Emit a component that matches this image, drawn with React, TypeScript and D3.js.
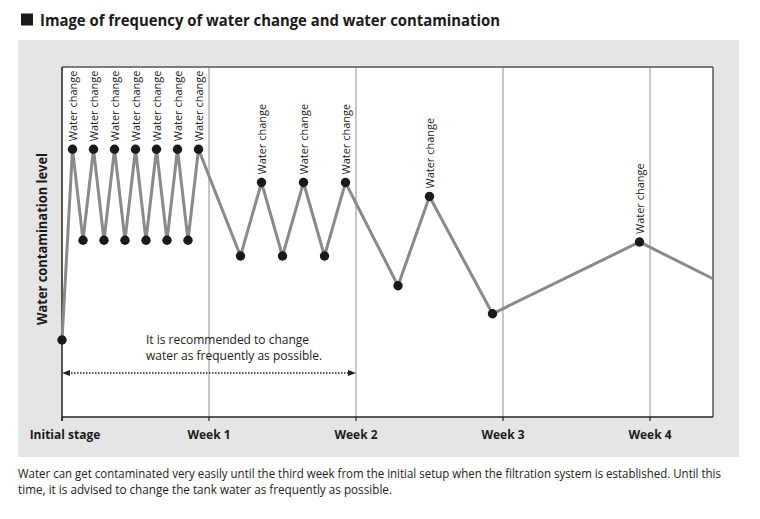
import React from "react";
import * as d3 from "d3";

const days = [0, 0.5, 1, 1.5, 2, 2.5, 3, 3.5, 4, 4.5, 5, 5.5, 6, 6.5, 8.5, 9.5, 10.5, 11.5, 12.5, 13.5, 16, 17.5, 20.5, 27.5, 31];
const levels = [22, 76.5, 50.5, 76.5, 50.5, 76.5, 50.5, 76.5, 50.5, 76.5, 50.5, 76.5, 50.5, 76.5, 46, 67, 46, 67, 46, 67, 37.5, 63, 29.5, 50, 39.5];
const waterChange = [false, true, false, true, false, true, false, true, false, true, false, true, false, true, false, true, false, true, false, true, false, true, false, true, false];
const hasDot = days.map((_, i) => i < days.length - 1);
const tickDays = [0, 7, 14, 21, 28];
const tickLabels = ["Initial stage", "Week 1", "Week 2", "Week 3", "Week 4"];
const annotationLines = ["It is recommended to change", "water as frequently as possible."];
const annotationRange = [0, 14];
const title = "Image of frequency of water change and water contamination";
const yLabel = "Water contamination level";
const captionLines = [
  "Water can get contaminated very easily until the third week from the initial setup when the filtration system is established. Until this",
  "time, it is advised to change the tank water as frequently as possible.",
];

const W = 760, H = 519;
const plot = { left: 62, right: 713, top: 67, bottom: 417 };
const FONT = "'Open Sans', 'DejaVu Sans', sans-serif";

export default function App() {
  const x = d3.scaleLinear().domain([0, 31]).range([plot.left, plot.right]);
  const y = d3.scaleLinear().domain([0, 100]).range([plot.bottom, plot.top]);
  const pts = days.map((d, i) => [x(d), y(levels[i])] as [number, number]);
  const line = d3.line<[number, number]>().x(p => p[0]).y(p => p[1]);
  const ay = 373;
  const ax0 = x(annotationRange[0]);
  const ax1 = x(annotationRange[1]);

  return (
    <svg width={W} height={H} style={{ position: "absolute", left: 0, top: 0 }} fontFamily={FONT}>
      <rect x={0} y={0} width={W} height={H} fill="#fff" />
      {/* title */}
      <rect x={21} y={13.5} width={12} height={12} fill="#1a1a1a" />
      <text x={40} y={26} fontSize={16} fontWeight={700} fill="#1a1a1a" textLength={460} lengthAdjust="spacingAndGlyphs">{title}</text>
      {/* panel */}
      <rect x={18} y={40} width={721} height={417} fill="#e5e5e5" />
      <rect x={plot.left} y={plot.top} width={plot.right - plot.left} height={plot.bottom - plot.top} fill="#fff" />
      {/* grid lines */}
      {tickDays.slice(1).map(d => (
        <line key={d} x1={x(d)} x2={x(d)} y1={plot.top} y2={plot.bottom} stroke="#8f8f8f" strokeWidth={1} />
      ))}
      {/* borders */}
      <line x1={plot.left} x2={plot.right} y1={plot.top} y2={plot.top} stroke="#555" strokeWidth={1.5} />
      <line x1={plot.right} x2={plot.right} y1={plot.top} y2={plot.bottom} stroke="#555" strokeWidth={1.5} />
      <line x1={plot.left} x2={plot.left} y1={plot.top} y2={plot.bottom + 4} stroke="#222" strokeWidth={1.5} />
      <line x1={plot.left} x2={plot.right} y1={plot.bottom} y2={plot.bottom} stroke="#222" strokeWidth={1.5} />
      {/* ticks */}
      {tickDays.map((d, i) => (
        <g key={d}>
          <line x1={x(d)} x2={x(d)} y1={plot.bottom} y2={plot.bottom + 4} stroke="#222" strokeWidth={1.2} />
          <text x={x(d) + (i === 0 ? 3 : 0)} y={439} textAnchor="middle" fontSize={12} fontWeight={700} fill="#1a1a1a">{tickLabels[i]}</text>
        </g>
      ))}
      {/* y label */}
      <text transform={`translate(47,239) rotate(-90)`} textAnchor="middle" fontSize={14} fontWeight={700} fill="#1a1a1a" textLength={172} lengthAdjust="spacingAndGlyphs">{yLabel}</text>
      {/* annotation */}
      {annotationLines.map((t, i) => (
        <text key={i} x={146} y={344 + i * 16} fontSize={12} fill="#222">{t}</text>
      ))}
      <line x1={ax0 + 6} x2={ax1 - 6} y1={ay} y2={ay} stroke="#222" strokeWidth={1.3} strokeDasharray="1.5 1.5" />
      <path d={`M${ax0},${ay} L${ax0 + 8},${ay - 3} L${ax0 + 8},${ay + 3} Z`} fill="#222" />
      <path d={`M${ax1},${ay} L${ax1 - 8},${ay - 3} L${ax1 - 8},${ay + 3} Z`} fill="#222" />
      {/* data line */}
      <path d={line(pts) || ""} fill="none" stroke="#8a8a8a" strokeWidth={3} strokeLinejoin="miter" />
      {pts.map((p, i) => hasDot[i] ? <circle key={i} cx={p[0]} cy={p[1]} r={4.7} fill="#1a1a1a" /> : null)}
      {pts.map((p, i) => waterChange[i] ? (
        <text key={"l" + i} transform={`translate(${p[0] + 4},${p[1] - 8}) rotate(-90)`} fontSize={11} fill="#222">Water change</text>
      ) : null)}
      {/* caption */}
      {captionLines.map((t, i) => (
        <text key={i} x={18} y={478 + i * 16} fontSize={12} fill="#222" textLength={i === 0 ? 703 : 374} lengthAdjust="spacingAndGlyphs">{t}</text>
      ))}
    </svg>
  );
}
